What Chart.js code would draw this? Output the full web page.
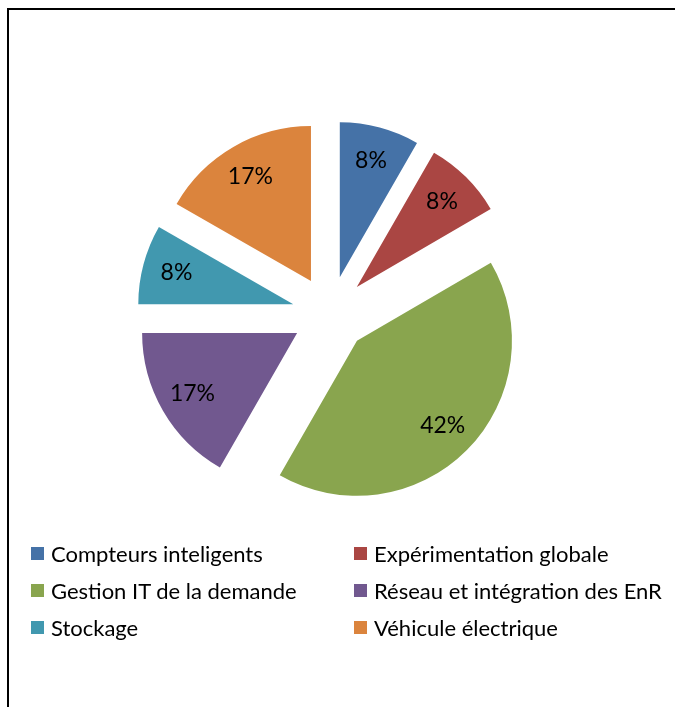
<!DOCTYPE html>
<html>
<head>
<meta charset="utf-8">
<script src="https://cdn.jsdelivr.net/npm/chart.js@4.4.0/dist/chart.umd.min.js"></script>
<style>
  body { margin: 0; background: #fff; overflow: hidden; font-family: Lato, sans-serif; }
  #wrap { position: relative; width: 675px; height: 707px; }
  #frame { position: absolute; left: 7px; top: 8px; width: 700px; height: 720px; border: 2px solid #000; }
  #legend { position: absolute; left: 31px; top: 535px; display: grid; grid-template-columns: 323px auto; grid-auto-rows: 37px; font-size: 22px; color: #000; }
  .item { display: flex; align-items: center; white-space: nowrap; }
  .box { width: 13px; height: 13px; margin-right: 7px; }
</style>
</head>
<body>
<div id="wrap">
  <canvas id="myChart"></canvas>
  <div id="frame"></div>
  <div id="legend"></div>
</div>
<script>
// categories and their share (in %)
let categories = ['Compteurs inteligents', 'Expérimentation globale', 'Gestion IT de la demande', 'Réseau et intégration des EnR', 'Stockage', 'Véhicule électrique']
let shares = [8.3, 8.3, 41.7, 16.7, 8.3, 16.7]
let sliceColors = ['#4572A7', '#AA4643', '#89A54E', '#71588F', '#4198AF', '#DB843D']

// how far each slice is pulled out, and where the % text sits (fraction of radius)
let explode = 38
let labelPos = 0.78

// push every slice out along its middle angle (same distance for all, like excel)
let explodePlugin = {
  id: 'explode',
  afterDatasetsUpdate(chart) {
    let meta = chart.getDatasetMeta(0)
    meta.data.forEach(function(arc) {
      let mid = (arc.startAngle + arc.endAngle) / 2
      arc.x += Math.cos(mid) * explode
      arc.y += Math.sin(mid) * explode
    })
  }
}

// write the percentage inside each slice
let pctPlugin = {
  id: 'pct',
  afterDatasetsDraw(chart) {
    let ctx = chart.ctx
    let data = chart.data.datasets[0].data
    let total = data.reduce(function(a, b) { return a + b }, 0)
    ctx.save()
    ctx.font = '23px Lato, sans-serif'
    ctx.fillStyle = '#000'
    ctx.textAlign = 'center'
    ctx.textBaseline = 'middle'
    chart.getDatasetMeta(0).data.forEach(function(arc, i) {
      let mid = (arc.startAngle + arc.endAngle) / 2
      let d = arc.outerRadius * labelPos
      let x = arc.x + Math.cos(mid) * d
      let y = arc.y + Math.sin(mid) * d
      ctx.fillText(Math.round(data[i] / total * 100) + '%', x, y)
    })
    ctx.restore()
  }
}

let ctx = document.getElementById('myChart').getContext('2d')
let chart = new Chart(ctx, {
  type: 'pie',
  data: {
    labels: categories,
    datasets: [{
      data: shares,
      backgroundColor: sliceColors,
      borderWidth: 0,
      hoverOffset: 0
    }]
  },
  options: {
    responsive: true,
    maintainAspectRatio: false,
    animation: false,
    events: [],
    radius: 155,
    layout: { padding: { left: 0, top: 0, right: 15, bottom: 79 } },
    plugins: {
      legend: { display: false },
      tooltip: { enabled: false }
    }
  },
  plugins: [explodePlugin, pctPlugin]
})

// legend in two columns under the pie
let legendDiv = document.getElementById('legend')
for (let i = 0; i < categories.length; i++) {
  let item = document.createElement('div')
  item.className = 'item'
  item.innerHTML = '<span class="box" style="background:' + sliceColors[i] + '"></span>' + categories[i]
  legendDiv.appendChild(item)
}
</script>
</body>
</html>
